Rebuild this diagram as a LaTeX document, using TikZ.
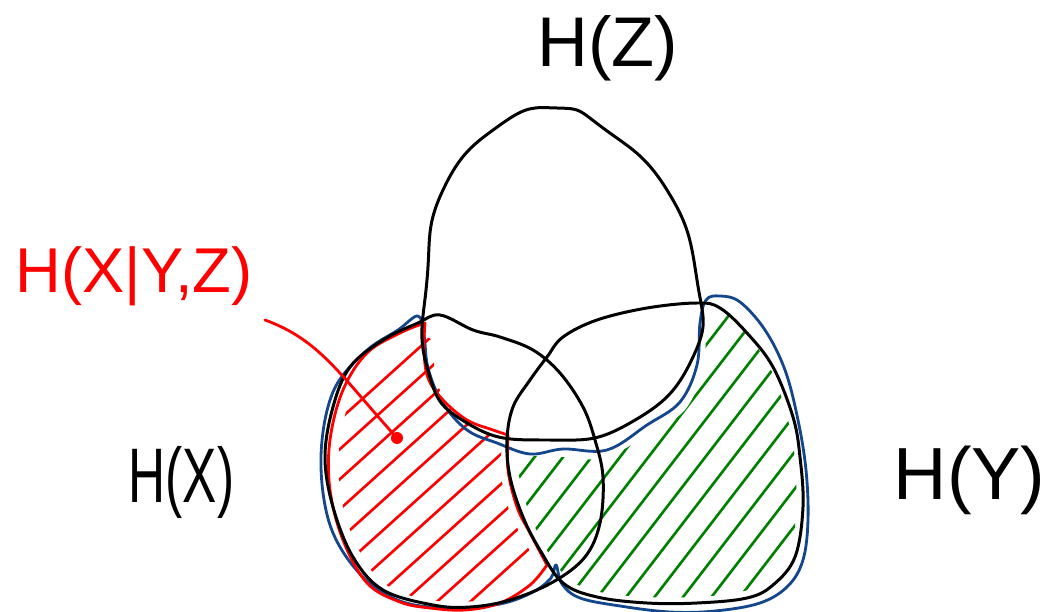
\documentclass[tikz,border=0pt]{standalone}
\usepackage{graphicx}
\usepackage{fontspec}
\setmainfont{Liberation Sans}
\definecolor{pblue}{RGB}{20,70,140}
\definecolor{pgreen}{RGB}{0,128,0}
\definecolor{pred}{RGB}{255,0,0}
\begin{document}
\begin{tikzpicture}[x=0.01cm,y=-0.01cm,
  blackline/.style={draw=black,line width=0.85pt,line join=round,line cap=round},
  blueline/.style={draw=pblue,line width=0.8pt,line join=round,line cap=round},
  redline/.style={draw=pred,line width=0.8pt,line join=round,line cap=round},
  hatchred/.style={draw=pred,line width=0.75pt,line cap=round},
  hatchgreen/.style={draw=pgreen,line width=0.75pt,line cap=round},
  lbl/.style={inner sep=0pt,font=\fontsize{20}{24}\selectfont}]
\useasboundingbox (0,0) rectangle (1050,612);

% red hatching
\begin{scope}
  \clip plot[smooth cycle,tension=0.6] coordinates {(432,340) (435,378) (450,405) (472,428) (500,440) (500,470) (509,510) (522,537) (535,565) (520,583) (490,598) (450,602) (405,594) (375,575) (352,535) (340,490) (340,440) (352,395) (373,362) (405,343)};
  \foreach \c in {695,725,...,1070} {
    \draw[hatchred] (300,\c-270) -- (600,\c-540);
  }
\end{scope}

% green hatching
\begin{scope}
  \clip plot[smooth cycle,tension=0.6] coordinates {(518,458) (560,457) (605,458) (650,433) (685,410) (703,370) (708,325) (725,312) (750,338) (772,372) (788,420) (795,460) (796,510) (790,553) (768,580) (740,592) (695,597) (645,597) (600,592) (570,580) (548,552) (530,515) (520,480)};
  \foreach \c in {1115,1152,...,1630} {
    \draw[hatchgreen] (480,\c-624) -- (820,\c-1066);
  }
\end{scope}

% blue outline of (X or Y) without Z
\draw[blueline] plot[smooth cycle,tension=0.6] coordinates {(418,316) (424,335) (428,368) (442,402) (467,430) (497,443) (530,454) (563,449) (607,450) (647,425) (680,402) (697,365) (700,323) (706,300) (720,296) (740,302) (765,330) (785,370) (798,420) (806,470) (808,520) (803,560) (788,586) (760,603) (715,611) (670,612) (620,606) (580,598) (562,584) (556,565) (551,578) (533,592) (500,604) (450,608) (400,601) (360,574) (330,525) (321,457) (333,392) (365,352) (398,330)};

% red outline of X only
\draw[redline] plot[smooth,tension=0.6] coordinates {(425,323) (424,350) (428,378) (443,400) (467,420) (493,430) (508,435)}
  -- plot[smooth,tension=0.6] coordinates {(508,435) (508,470) (517,507) (530,533) (547,565)}
  -- plot[smooth,tension=0.6] coordinates {(547,565) (530,585) (500,603) (465,610) (430,608) (400,602) (367,583) (343,540) (330,490) (330,440) (343,390) (367,353) (400,333) (425,323)} -- cycle;

% circle Z
\draw[blackline] plot[smooth cycle,tension=0.85] coordinates {(557,108) (603,128) (667,190) (697,280) (693,357) (630,423) (547,440) (467,423) (427,367) (427,280) (443,190) (500,125)};
% circle X
\draw[blackline] plot[smooth cycle,tension=0.6] coordinates {(440,315) (473,330) (500,337) (533,350) (560,373) (583,407) (595,440) (603,477) (600,523) (585,557) (553,582) (510,600) (470,607) (433,605) (383,590) (353,557) (333,507) (325,457) (333,407) (350,367) (383,340) (418,323)};
% circle Y
\draw[blackline] plot[smooth cycle,tension=0.6] coordinates {(547,357) (563,337) (597,320) (647,308) (697,303) (720,308) (747,333) (773,367) (793,417) (800,457) (803,507) (795,557) (773,585) (747,598) (697,603) (647,603) (597,597) (563,583) (540,550) (523,517) (510,477) (507,440) (513,407) (530,380)};

% labels
\node[lbl,anchor=base west] (hz) at (537,67) {H(Z)};
\node[lbl,anchor=base west] (hx) at (128,502) {\scalebox{0.73}[1.1]{H(X)}};
\node[lbl,anchor=base west,font=\fontsize{21}{24}\selectfont] (hy) at (893,500) {H(Y)};
\node[lbl,anchor=base west,text=pred,font=\fontsize{18}{22}\selectfont] (hxyz) at (15,292) {H(X|Y,Z)};

% leader
\node[circle,fill=pred,inner sep=0pt,minimum size=0.12cm] (dot) at (397,438) {};
\coordinate (lead) at (265,320);
\draw[redline] (lead) .. controls (320,340) and (340,375) .. (dot.center);
\end{tikzpicture}
\end{document}
